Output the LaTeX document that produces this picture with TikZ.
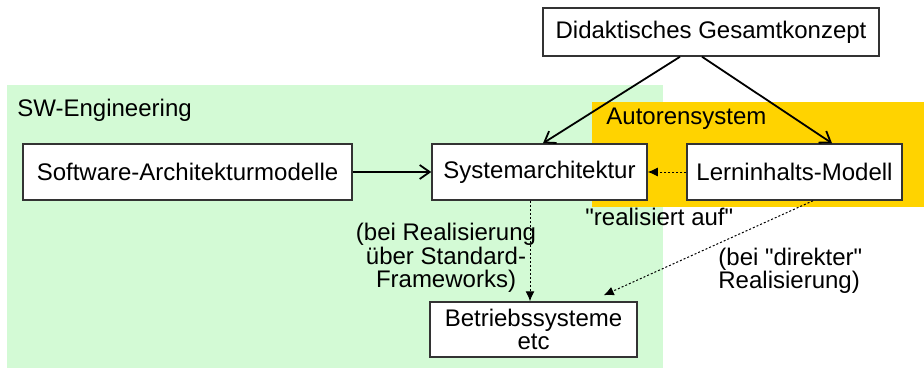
\documentclass[tikz,border=0pt]{standalone}
\usepackage{fontspec}
\setmainfont{Liberation Sans}
\usetikzlibrary{calc,positioning,arrows.meta}
\definecolor{SWGreen}{HTML}{D3FAD5}
\definecolor{AutorYellow}{HTML}{FFD300}
\definecolor{BoxLine}{HTML}{333333}

\tikzset{
  kasten/.style={draw=BoxLine, line width=0.75pt, fill=white, align=center, inner sep=0pt},
  hinweis/.style={inner sep=0pt, font=\fontsize{12}{11.7}\selectfont},
  pfeil/.style={-{Straight Barb[length=5pt,width=7pt]}, line width=0.9pt},
  realpfeil/.style={-{Latex[length=5pt,width=4.5pt]}, dash pattern=on 1pt off 1pt, line width=0.5pt}
}

\begin{document}
\begin{tikzpicture}[x=0.5pt, y=-0.5pt, font=\fontsize{12}{11.7}\selectfont]
    \useasboundingbox (0,0) rectangle (924,369);

    % Bereiche
    \fill[SWGreen] (7,85) rectangle (663,368);
    \fill[AutorYellow] (592,102) rectangle (924,207);
    \node[hinweis, anchor=west] (sweng) at (17,110) {SW-Engineering};
    \node[hinweis, anchor=west] (autor) at (606,119) {Autorensystem};

    % Kaesten
    \node[kasten, minimum width=168pt, minimum height=24pt] (konzept) at (711,32) {Didaktisches Gesamtkonzept};
    \node[kasten, minimum width=164.5pt, minimum height=28pt] (swarch) at (187.5,172) {Software-Architekturmodelle};
    \node[kasten, minimum width=107.5pt, minimum height=28pt] (sysarch) at (539.5,172) {Systemarchitektur};
    \node[kasten, minimum width=107.5pt, minimum height=28pt] (lern) at (794.5,172) {Lerninhalts-Modell};
    \node[kasten, minimum width=103.5pt, minimum height=27.5pt] (betrieb) at (533.5,329.5) {Betriebssysteme\\etc};

    % Beschriftungen
    \node[hinweis, anchor=west] (realauf) at (585,217) {\textquotedbl realisiert auf\textquotedbl};
    \node[hinweis, align=center] (standard) at (446,258) {(bei Realisierung\\über Standard-\\Frameworks)};
    \node[hinweis, align=left, anchor=west] (direkt) at (718,271) {(bei \textquotedbl direkter\textquotedbl\\Realisierung)};

    % Pfeile
    \coordinate (k1) at ($(konzept.south)+(-31,0)$);
    \coordinate (k2) at ($(konzept.south)+(-9,0)$);
    \coordinate (s1) at ($(sysarch.north)+(3.5,0)$);
    \coordinate (l1) at ($(lern.north)+(37.5,0)$);
    \draw[pfeil] (k1) -- (s1);
    \draw[pfeil] (k2) -- (l1);
    \draw[pfeil] (swarch.east) -- (sysarch.west);

    \coordinate (s2) at ($(sysarch.south)+(-9.5,0)$);
    \coordinate (b1) at (s2 |- betrieb.north);
    \coordinate (l2) at ($(lern.south)+(18.5,0)$);
    \coordinate (b2) at ($(betrieb.north east)+(-34,-6)$);
    \draw[realpfeil] (lern.west) -- (sysarch.east);
    \draw[realpfeil] (s2) -- (b1);
    \draw[realpfeil] (l2) -- (b2);
  \end{tikzpicture}
\end{document}
